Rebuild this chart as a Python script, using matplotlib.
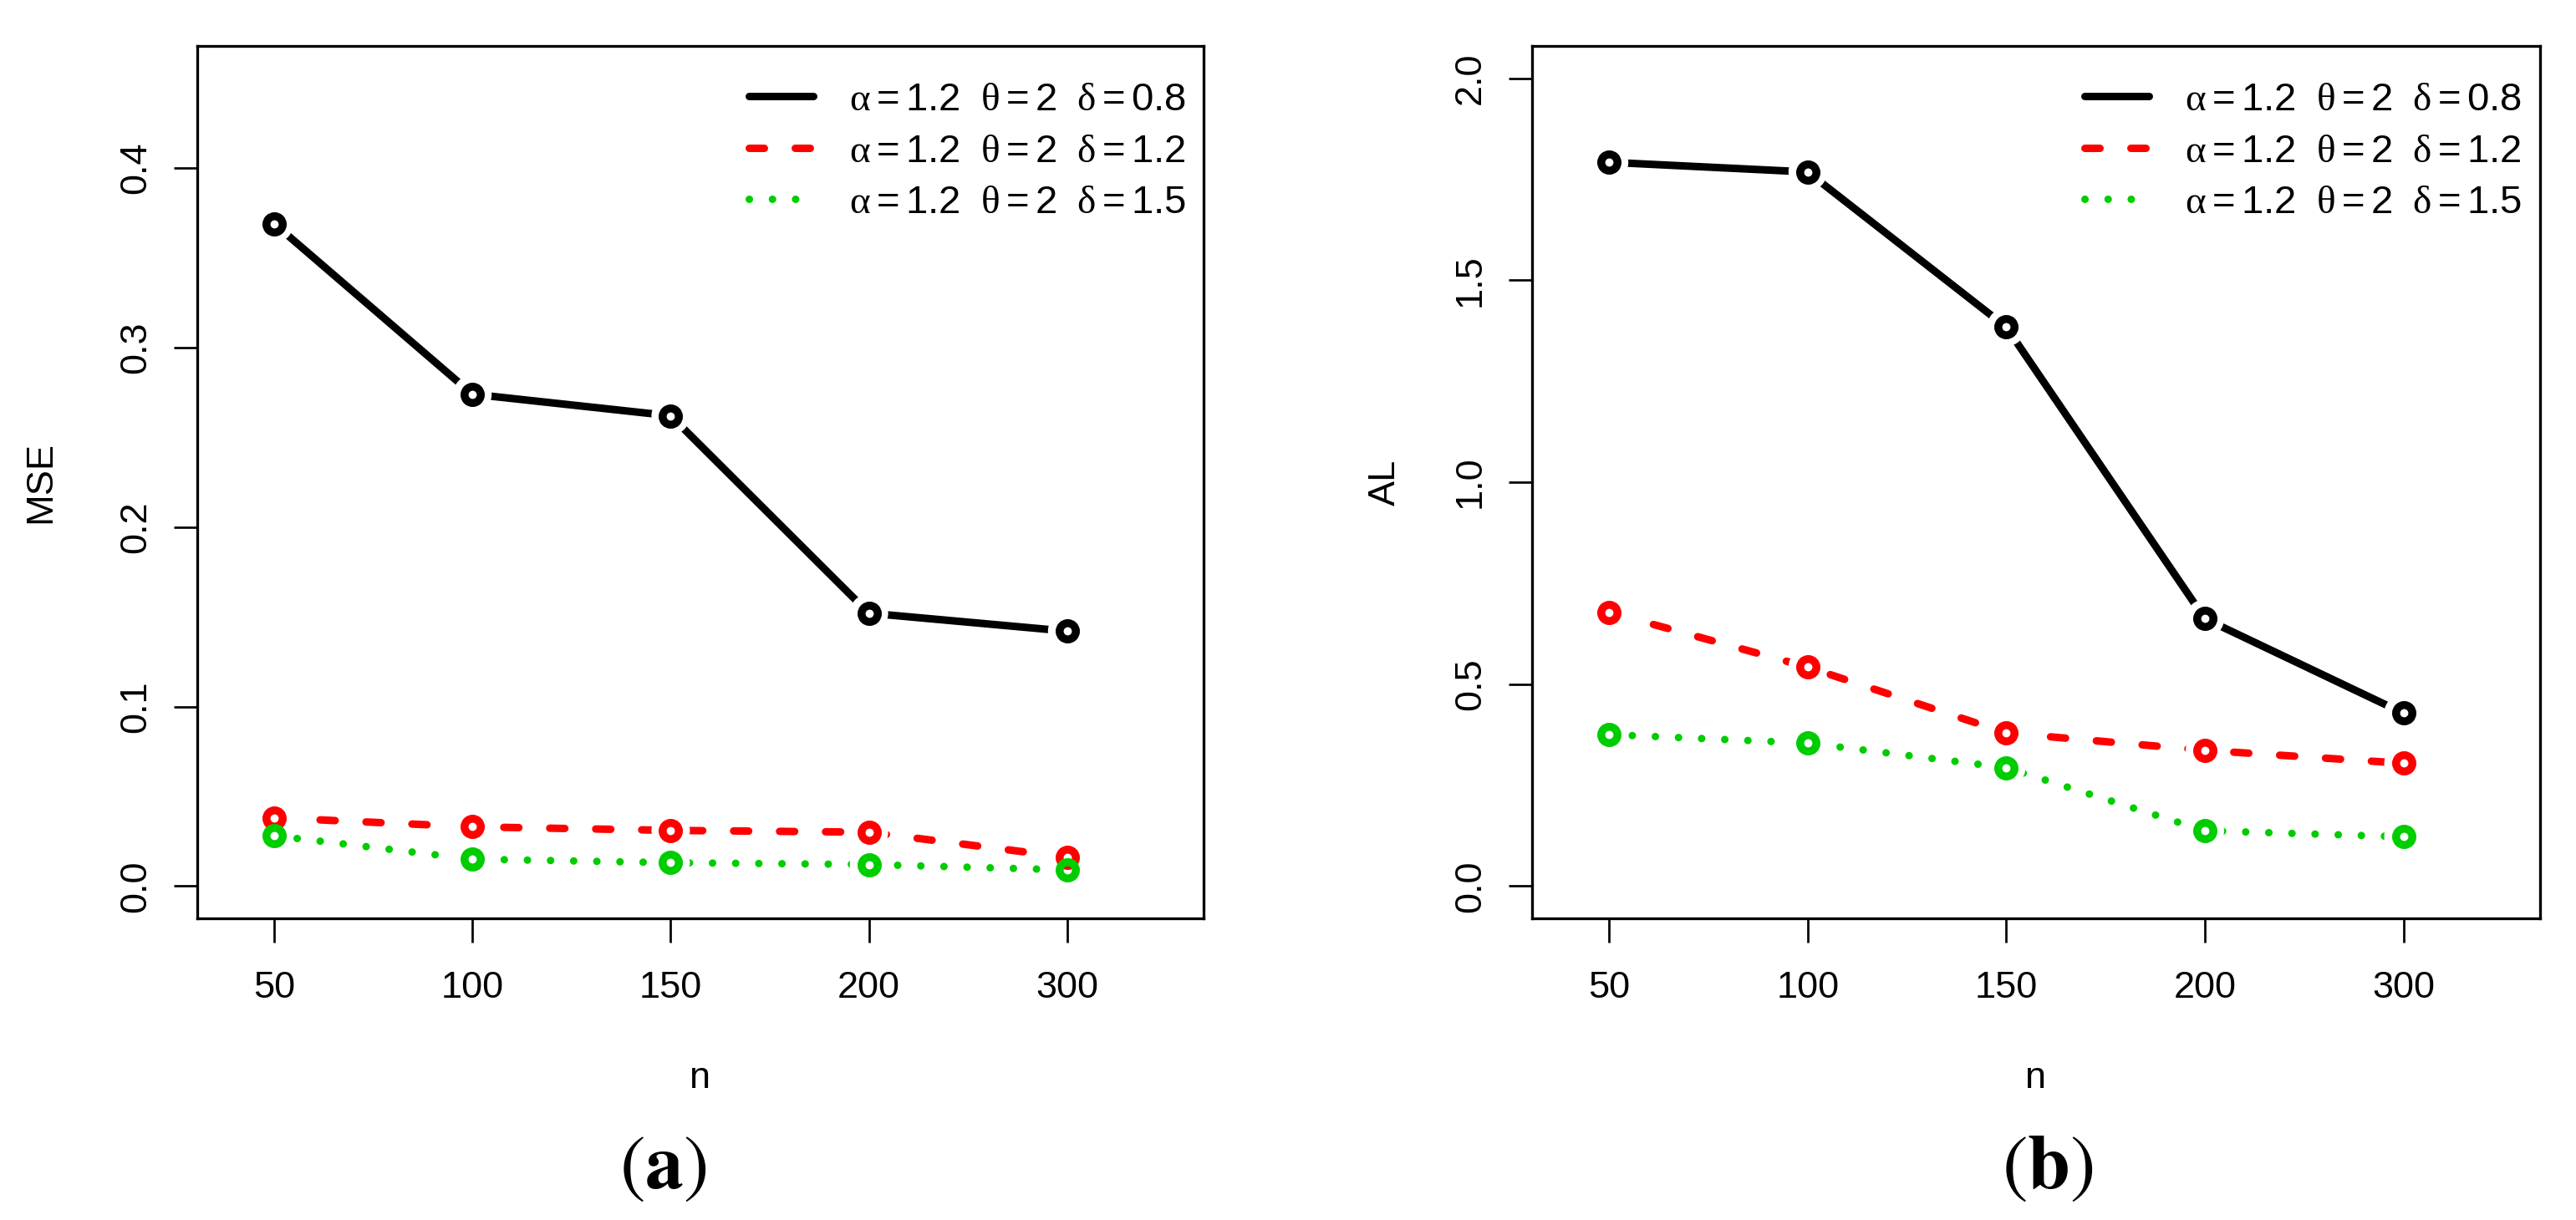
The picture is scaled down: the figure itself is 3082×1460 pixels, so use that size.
import numpy as np
import matplotlib
matplotlib.use('Agg')
import matplotlib.pyplot as plt
from matplotlib.path import Path
from matplotlib.transforms import IdentityTransform

plt.rcParams['font.family'] = ['Liberation Sans', 'DejaVu Sans']
plt.rcParams['mathtext.fontset'] = 'custom'
plt.rcParams['mathtext.rm'] = 'Liberation Sans'
plt.rcParams['mathtext.it'] = 'Liberation Serif'
plt.rcParams['mathtext.bf'] = 'Liberation Sans:bold'

# ---------------- data ----------------
n_labels = ['50', '100', '150', '200', '300']
series_labels = [r'$\alpha = 1.2\ \ \theta = 2\ \ \delta = 0.8$',
                 r'$\alpha = 1.2\ \ \theta = 2\ \ \delta = 1.2$',
                 r'$\alpha = 1.2\ \ \theta = 2\ \ \delta = 1.5$']
mse_d08 = [0.369, 0.274, 0.262, 0.152, 0.142]
mse_d12 = [0.038, 0.033, 0.031, 0.030, 0.016]
mse_d15 = [0.028, 0.015, 0.013, 0.012, 0.009]
al_d08 = [1.792, 1.768, 1.384, 0.662, 0.428]
al_d12 = [0.678, 0.542, 0.379, 0.336, 0.304]
al_d15 = [0.375, 0.354, 0.293, 0.137, 0.122]
mse_ticks = [0.0, 0.1, 0.2, 0.3, 0.4]
mse_ticklabels = ['0.0', '0.1', '0.2', '0.3', '0.4']
al_ticks = [0.0, 0.5, 1.0, 1.5, 2.0]
al_ticklabels = ['0.0', '0.5', '1.0', '1.5', '2.0']

# ---------------- layout / style ----------------
W, H, DPI = 3082, 1460, 100
PT = 72.0 / DPI           # points per pixel
FS = 32.5                 # axis text size
LEGFS = 34
LW = 9 * PT
MS = 19.5 * PT
MEW = 9.5 * PT
GAP_R = 23.0              # px radius of line gap around points
colors = ['black', '#FF0000', '#00CD00']
dash_styles = [None, (18 / 9, 37 / 9), (0.01, 27.6 / 9)]

fig = plt.figure(figsize=(W / DPI, H / DPI), dpi=DPI)
ax_bottom, ax_top = 1099, 55
ax_h = ax_bottom - ax_top
axes_specs = [(236, 1440), (1833, 3039)]


def rexpand(lo, hi):
    r = hi - lo
    return lo - 0.04 * r, hi + 0.04 * r


def gapped_series(ax, x, y, color, dashes, z):
    line, = ax.plot(x, y, color=color, lw=LW, solid_capstyle='round',
                    dash_capstyle='round', zorder=z)
    if dashes is not None:
        line.set_dashes(dashes)
    pts = ax.transData.transform(np.column_stack([x, y]))
    verts = [(-10, -10), (W + 10, -10), (W + 10, H + 10), (-10, H + 10), (-10, -10)]
    codes = [Path.MOVETO, Path.LINETO, Path.LINETO, Path.LINETO, Path.CLOSEPOLY]
    t = np.linspace(0, -2 * np.pi, 72, endpoint=False)
    for px, py in pts:
        cx = px + GAP_R * np.cos(t)
        cy = py + GAP_R * np.sin(t)
        verts += list(zip(cx, cy))
        codes += [Path.MOVETO] + [Path.LINETO] * 71
        verts.append((cx[0], cy[0]))
        codes.append(Path.CLOSEPOLY)
    line.set_clip_path(Path(verts, codes), IdentityTransform())
    ax.plot(x, y, ls='none', marker='o', ms=MS, mew=MEW, mfc='none',
            mec=color, zorder=z + 0.5)


panels = [
    ([mse_d08, mse_d12, mse_d15], (0, 0.45), mse_ticks, mse_ticklabels, 'MSE', 49, r'$(\mathbf{a})$', 793),
    ([al_d08, al_d12, al_d15], (0, 2.0), al_ticks, al_ticklabels, 'AL', 1657, r'$(\mathbf{b})$', 2450),
]

legend_rows = [115, 177, 238]
for (left, right), (data, ylim, yt, ytl, ylab, ylab_x, tag, tag_x) in zip(axes_specs, panels):
    ax_w = right - left
    ax = fig.add_axes([left / W, (H - ax_bottom) / H, ax_w / W, ax_h / H])
    x = np.arange(1, len(n_labels) + 1)
    ax.set_xlim(*rexpand(0.8, 5.5))
    ax.set_ylim(*rexpand(*ylim))
    for i, vals in enumerate(data):
        gapped_series(ax, x, vals, colors[i], dash_styles[i], 3 + i)

    ax.set_xticks(x)
    ax.set_xticklabels(n_labels)
    ax.set_yticks(yt)
    ax.set_yticklabels(ytl, rotation=90, va='center')
    ax.tick_params(axis='x', length=28.5 * PT, width=2.7 * PT, pad=25, labelsize=FS, direction='out')
    ax.tick_params(axis='y', length=28.5 * PT, width=2.7 * PT, pad=17.6, labelsize=FS, direction='out')
    for sp in ax.spines.values():
        sp.set_linewidth(3.3 * PT)

    ax.set_xlabel('n', fontsize=FS, va='baseline')
    ax.xaxis.set_label_coords(0.5, (ax_bottom - 1302) / ax_h)
    ax.set_ylabel(ylab, fontsize=FS, va='center')
    ax.yaxis.set_label_coords((ylab_x - left) / ax_w, 0.5)

    # legend (no frame)
    lx0 = (896 - 236) / 1204
    lx1 = (973 - 236) / 1204
    tx = (1016 - 236) / 1204
    for i, lab in enumerate(series_labels):
        yy = (ax_bottom - legend_rows[i]) / ax_h
        ln, = ax.plot([lx0, lx1], [yy, yy], transform=ax.transAxes, color=colors[i],
                      lw=LW, solid_capstyle='round', dash_capstyle='round', clip_on=False)
        if dash_styles[i] is not None:
            ln.set_dashes(dash_styles[i])
        yb = (ax_bottom - (legend_rows[i] + 17)) / ax_h
        ax.text(tx, yb, lab, transform=ax.transAxes, fontsize=LEGFS, va='baseline', ha='left')

    fig.text(tag_x / W, 1 - 1422 / H, tag, math_fontfamily='stix', fontsize=66,
             ha='center', va='baseline')

fig.savefig('out.png', dpi=DPI, facecolor='white')
